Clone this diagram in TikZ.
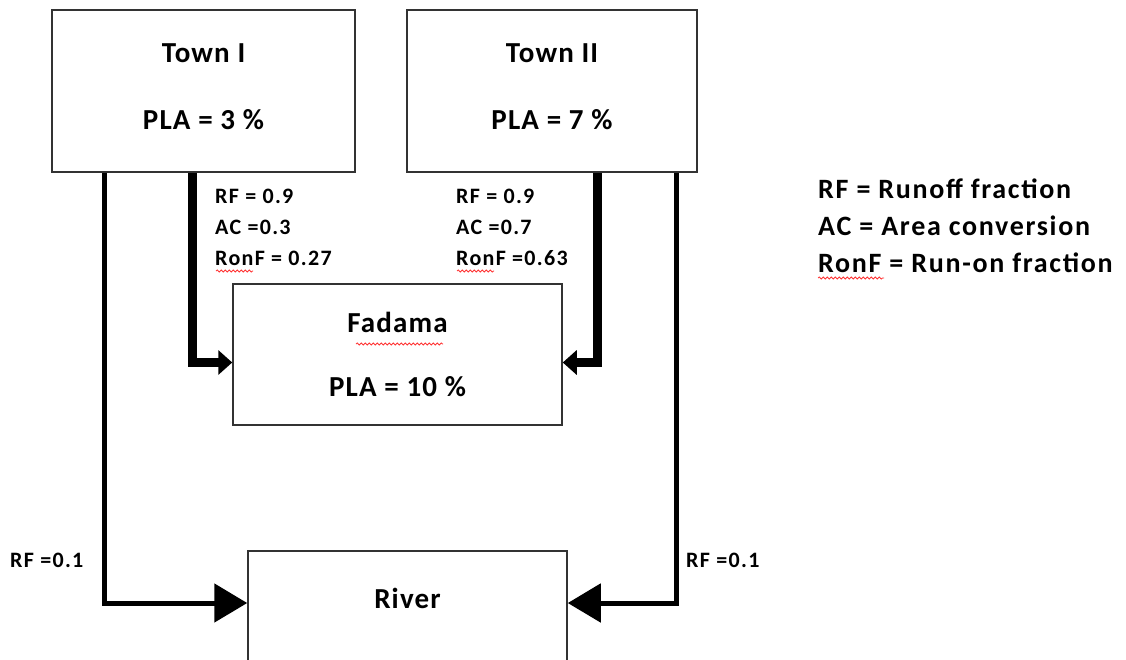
\documentclass[tikz,border=0pt]{standalone}
\usepackage{fontspec}
\setmainfont{Carlito}
\usetikzlibrary{arrows.meta,decorations.pathmorphing}
\tikzset{
  area/.style ={rectangle, draw=black!80, line width=1.5pt, align=center,
                font=\bfseries\fontsize{29}{30}\selectfont\addfontfeature{LetterSpace=4}},
  note/.style ={align=left, anchor=north west, inner sep=0pt,
                font=\bfseries\fontsize{22}{31}\selectfont\addfontfeature{LetterSpace=6}},
  legend/.style={align=left, anchor=north west, inner sep=0pt,
                font=\bfseries\fontsize{28}{37}\selectfont\addfontfeature{LetterSpace=6}},
  flow/.style ={line width=9pt, -{Triangle[length=14pt,width=24pt]}},
  spill/.style={line width=5pt, -{Triangle[length=33pt,width=38pt]}},
  squig/.style={draw=red!80, line width=0.8pt, decorate,
                decoration={snake, amplitude=1pt, segment length=4pt}},
}

\begin{document}
\begin{tikzpicture}[x=1pt,y=-1pt]
\clip (0,0) rectangle (1126,659);

% land units
\node[area, minimum width=303pt, minimum height=162pt] (town1) at (203.5,91) {Town I\\[37pt]PLA = 3 \%\\[-22pt]};
\node[area, minimum width=290pt, minimum height=162pt] (town2) at (552,91) {Town II\\[37pt]PLA = 7 \%\\[-22pt]};
\node[area, minimum width=329pt, minimum height=141pt] (fadama) at (397.5,354.5) {Fadama\\[34pt]PLA = 10 \%};
\node[area, anchor=north, minimum width=319pt, inner sep=0pt,
      text height=58pt, text depth=80pt] (river) at (407.5,550) {River};

% flows
\draw[flow]  ([xshift=141pt]town1.south west) |- ([yshift=-8pt]fadama.west);
\draw[flow]  ([xshift=-100pt]town2.south east) |- ([yshift=-8pt]fadama.east);
\draw[spill] ([xshift=53pt]town1.south west) |- ([yshift=-53pt]river.north west);
\draw[spill] ([xshift=-21pt]town2.south east) |- ([yshift=-53pt]river.north east);

% flow labels
\node[note] (lab1) at (215,189) {RF = 0.9\\AC =0.3\\RonF = 0.27};
\node[note] (lab2) at (456,189) {RF = 0.9\\AC =0.7\\RonF =0.63};
\node[note] (rf1) at (10,553) {RF =0.1};
\node[note] (rf2) at (686,553) {RF =0.1};

% key
\node[legend] (key) at (818,179) {RF = Runoff fraction\\AC = Area conversion\\RonF = Run-on fraction};

% spell-check marks
\draw[squig] (216,271) -- (253,271);
\draw[squig] (457,271) -- (494,271);
\draw[squig] (356,344) -- (443,344);
\draw[squig] (818,278) -- (884,278);

\end{tikzpicture}
\end{document}
